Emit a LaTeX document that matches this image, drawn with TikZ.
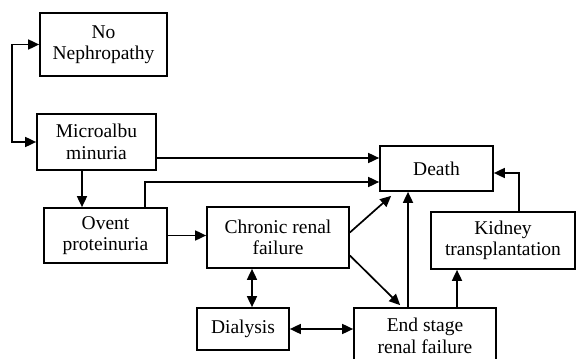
\documentclass[tikz,border=0pt]{standalone}
\usepackage{fontspec}
\setmainfont{Liberation Serif}
\usetikzlibrary{arrows.meta}
\begin{document}
\begin{tikzpicture}[x=1pt,y=-1pt]
			\useasboundingbox (0,0) rectangle (577,358);
			\tikzstyle{stage}=[draw, line width=1.7pt, rectangle, inner sep=0pt, align=center, font=\fontsize{19.5}{21.5}\selectfont]
			\tikzstyle{arr}=[line width=1.7pt, -{Triangle[length=11pt,width=10pt]}]
			\tikzstyle{darr}=[line width=1.7pt, {Triangle[length=11pt,width=10pt]}-{Triangle[length=11pt,width=10pt]}]
			% boxes
			\node[stage, minimum width=127pt, minimum height=63pt] (nn) at (103.5,44.5) {No\\Nephropathy};
			\node[stage, minimum width=119pt, minimum height=56pt] (ma) at (96.5,142) {Microalbu\\minuria};
			\node[stage, minimum width=123pt, minimum height=55pt] (ov) at (105.5,235.5) {Ovent\\proteinuria};
			\node[stage, minimum width=142pt, minimum height=61pt] (cr) at (278,237.5) {Chronic renal\\failure};
			\node[stage, minimum width=92pt, minimum height=42pt] (di) at (243,329) {Dialysis};
			\node[stage, minimum width=142pt, minimum height=56pt] (es) at (425,336) {End stage\\renal failure};
			\node[stage, minimum width=144pt, minimum height=57pt] (ki) at (503,240.5) {Kidney\\transplantation};
			\node[stage, minimum width=113pt, minimum height=45pt] (de) at (436.5,168.5) {Death};
			% connectors
			\draw[darr] (nn.west) -- ++(-27,0) |- (ma.west);
			\draw[arr] ([yshift=-16pt]ma.east) coordinate (m1) -- (m1 -| de.west);
			\draw[arr] ([xshift=39.5pt]ov.north) |- ([yshift=-13.5pt]de.west);
			\draw[arr] ([xshift=-14.5pt]ma.south) coordinate (m2) -- (m2 |- ov.north);
			\draw[arr] (ov.east) -- (ov.east -| cr.west);
			\draw[darr] ([xshift=-26pt]cr.south) coordinate (c1) -- (c1 |- di.north);
			\draw[darr] (di.east) -- (di.east -| es.west);
			\draw[arr] ([yshift=5pt]cr.east) -- ([xshift=12pt,yshift=-4pt]de.south west);
			\draw[arr] ([yshift=-18pt]cr.east) -- ([xshift=47pt,yshift=2pt]es.north west);
			\draw[arr] ([xshift=-17pt]es.north) coordinate (e1) -- (e1 |- de.south);
			\draw[arr] ([xshift=32pt]es.north) coordinate (e2) -- (e2 |- ki.south);
			\draw[arr] ([xshift=16pt]ki.north) |- ([yshift=-4.5pt]de.east);
		\end{tikzpicture}
\end{document}
